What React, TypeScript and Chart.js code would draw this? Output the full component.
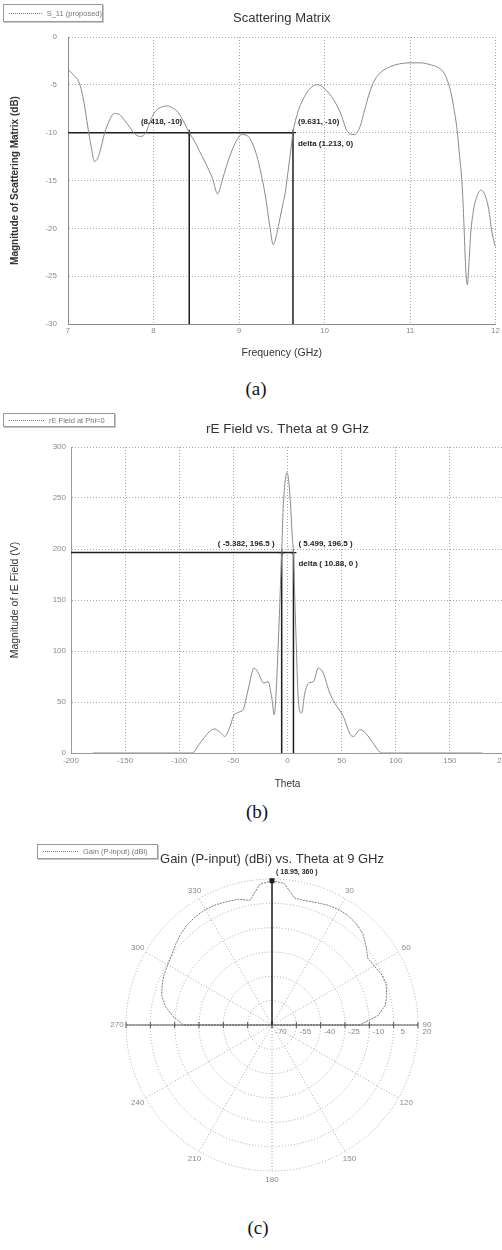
import React, { useEffect, useRef } from 'react';
import { Chart, registerables } from 'chart.js';

Chart.register(...registerables);

const SANS = '"Liberation Sans", Arial, sans-serif';
const SERIF = '"Liberation Serif", "Times New Roman", serif';
const CURVE = '#8a8a8a';
const MARK = '#1e1e1e';
const GRID = '#a8a8a8';
const TICK = '#8a8a8a';
const TEXT = '#333333';

Chart.defaults.font.family = SANS;

// ---------- (a) Scattering Matrix ----------
const freqGHz = [
  7.00, 7.07, 7.14, 7.19, 7.23, 7.27, 7.31, 7.34, 7.37, 7.43,
  7.48, 7.54, 7.60, 7.66, 7.72, 7.79, 7.85, 7.91, 7.97, 8.03,
  8.10, 8.16, 8.22, 8.29, 8.35, 8.418, 8.48, 8.53, 8.61, 8.69,
  8.75, 8.80, 8.86, 8.92, 8.98, 9.03, 9.11, 9.17, 9.22, 9.27,
  9.31, 9.36, 9.40, 9.43, 9.46, 9.50, 9.54, 9.58, 9.61, 9.631,
  9.69, 9.75, 9.81, 9.87, 9.93, 10.00, 10.08, 10.18, 10.27, 10.35,
  10.41, 10.47, 10.52, 10.58, 10.67, 10.77, 10.88, 11.00, 11.12, 11.24,
  11.33, 11.40, 11.47, 11.51, 11.55, 11.58, 11.61, 11.63, 11.65, 11.67,
  11.69, 11.71, 11.74, 11.77, 11.83, 11.88, 11.92, 11.96, 12.00,
];
const s11dB = [
  -3.4, -4.0, -5.0, -7.0, -9.3, -11.4, -13.0, -12.8, -12.1, -10.0,
  -8.8, -8.0, -8.1, -8.7, -9.4, -10.2, -10.4, -10.0, -8.6, -7.7,
  -7.3, -7.2, -7.4, -7.9, -8.8, -10.0, -10.9, -11.8, -13.2, -14.8,
  -16.4, -15.1, -13.3, -11.8, -10.7, -10.2, -10.4, -11.4, -12.8, -14.8,
  -16.7, -19.8, -21.7, -21.0, -19.8, -18.0, -16.3, -13.6, -11.5, -10.0,
  -7.8, -6.5, -5.6, -5.1, -5.0, -5.4, -6.2, -7.8, -9.9, -10.2,
  -9.5, -7.6, -6.0, -4.6, -3.6, -3.1, -2.8, -2.7, -2.7, -2.9,
  -3.2, -3.8, -5.5, -7.3, -9.7, -12.5, -15.6, -19.5, -24.0, -25.9,
  -23.5, -20.5, -18.2, -17.0, -16.0, -16.6, -18.0, -20.5, -22.0,
];
const freqTicks = [7, 8, 9, 10, 11, 12];
const s11Ticks = [0, -5, -10, -15, -20, -25, -30];
const markerFreqs = [8.418, 9.631];
const markerLevel = -10;
const markerDeltaA = '1.213';

// ---------- (b) rE Field vs Theta ----------
const thetaB = [
  -180, -88, -82, -77, -71, -67, -62, -58, -53, -50,
  -45, -41, -36, -31, -27, -22, -18, -14.5, -12.3, -10.5,
  -9, -7.5, -6.5, -5.382, -4, -2, -0.5, 1, 3, 4.5,
  5.499, 6.5, 8, 10, 13, 16, 19.5, 24, 28.5, 33,
  39, 45.5, 51.5, 58, 61, 67, 72, 79, 87, 180,
];
const eFieldV = [
  0, 0, 8, 15, 22, 23.5, 20, 16.3, 26, 36,
  40, 42.5, 63.7, 83.3, 78.4, 68.6, 70, 54, 37.6, 58.8,
  95, 135, 165, 196.5, 240, 268, 275, 268, 240, 210,
  196.5, 160, 110, 52, 39, 58.8, 68.6, 70, 83.3, 78.4,
  58.8, 45.8, 36, 18, 16.3, 22.9, 19.6, 9.8, 0, 0,
];
const thetaTicksB = [-200, -150, -100, -50, 0, 50, 100, 150, 200];
const eFieldTicks = [0, 50, 100, 150, 200, 250, 300];
const markerThetas = [-5.382, 5.499];
const markerLevelB = 196.5;
const markerDeltaB = '10.88';

// ---------- (c) Gain polar ----------
const thetaDeg = [
  0, 5, 10, 15, 20, 25, 30, 35, 40, 45, 50, 55,
  60, 65, 70, 75, 80, 85, 90, 95, 100, 105, 110, 115,
  120, 125, 130, 135, 140, 145, 150, 155, 160, 165, 170, 175,
  180, 185, 190, 195, 200, 205, 210, 215, 220, 225, 230, 235,
  240, 245, 250, 255, 260, 265, 270, 275, 280, 285, 290, 295,
  300, 305, 310, 315, 320, 325, 330, 335, 340, 345, 350, 355,
];
const gainDbi = [
  18.95, 17.5, 9.5, 9.3, 10.3, 11.5, 12.2, 12.1, 11.2, 9.3, 5.7, 2.0,
  2.8, 4.3, 4.8, 3.2, 1.0, -4.5, -16.0, -70, -70, -70, -70, -70,
  -70, -70, -70, -70, -70, -70, -70, -70, -70, -70, -70, -70,
  -70, -70, -70, -70, -70, -70, -70, -70, -70, -70, -70, -70,
  -70, -70, -70, -70, -70, -70, -15.5, -8.7, -3.2, 0.4, 2.0, 3.5,
  4.2, 5.5, 7.5, 9.5, 11.0, 11.8, 12.2, 11.8, 11.0, 10.3, 8.0, 17.0,
];
const gainTicks = [-70, -55, -40, -25, -10, 5, 20];
const peakGain = 18.95;
const peakTheta = 360;

const fixedTicks = (values: number[]) => (scale: any) => {
  scale.ticks = values.map((v) => ({ value: v }));
};

const markerText = (items: any[]) => ({
  id: 'markerText',
  afterDatasetsDraw(chart: any) {
    const { ctx } = chart;
    const x = chart.scales.x;
    const y = chart.scales.y;
    ctx.save();
    ctx.font = `bold 8px ${SANS}`;
    ctx.fillStyle = '#222';
    ctx.textBaseline = 'middle';
    items.forEach((it) => {
      ctx.textAlign = it.align;
      ctx.fillText(it.text, x.getPixelForValue(it.x) + it.dx, y.getPixelForValue(it.y) + it.dy);
    });
    ctx.restore();
  },
});

const lineDs = (pts: { x: number; y: number }[], color: string, width: number, extra: any = {}) => ({
  data: pts,
  borderColor: color,
  backgroundColor: color,
  borderWidth: width,
  pointRadius: 0,
  fill: false,
  ...extra,
});

function configA(): any {
  const [f1, f2] = markerFreqs;
  return {
    type: 'line',
    data: {
      datasets: [
        lineDs(freqGHz.map((f, i) => ({ x: f, y: s11dB[i] })), CURVE, 1, { cubicInterpolationMode: 'monotone' }),
        lineDs([{ x: 7, y: markerLevel }, { x: f2, y: markerLevel }], MARK, 1.5),
        lineDs([{ x: f1, y: markerLevel }, { x: f1, y: -30 }], MARK, 1.5),
        lineDs([{ x: f2, y: markerLevel }, { x: f2, y: -30 }], MARK, 1.5),
        lineDs([{ x: f1, y: markerLevel }, { x: f2, y: markerLevel }], MARK, 1, {
          showLine: false, pointRadius: 3, pointStyle: 'cross', pointBorderWidth: 1.2,
        }),
      ],
    },
    options: {
      responsive: false,
      animation: false,
      devicePixelRatio: 1,
      layout: { padding: { left: 0, right: 4, top: 0, bottom: 6 } },
      plugins: {
        legend: { display: false },
        tooltip: { enabled: false },
        title: {
          display: true, fullSize: false, text: 'Scattering Matrix', color: TEXT,
          font: { family: SANS, size: 13, weight: 'normal' }, padding: { top: 11, bottom: 10.4 },
        },
      },
      scales: {
        x: {
          type: 'linear', min: 7, max: 12,
          afterBuildTicks: fixedTicks(freqTicks),
          afterFit: (s: any) => { s.height = 40; },
          ticks: { font: { size: 8 }, color: TICK, padding: 2, maxRotation: 0 },
          grid: { color: GRID, drawTicks: false },
          border: { display: true, color: '#888', dash: [1, 2] },
          title: { display: true, text: 'Frequency (GHz)', color: TEXT, font: { size: 10.5 }, padding: { top: 0, bottom: 4.7 } },
        },
        y: {
          type: 'linear', min: -30, max: 0,
          afterBuildTicks: fixedTicks(s11Ticks),
          afterFit: (s: any) => { s.width = 68; },
          ticks: { font: { size: 8 }, color: TICK, padding: 11 },
          grid: { color: GRID, drawTicks: false },
          border: { display: true, color: '#888', dash: [1, 2] },
          title: { display: true, text: 'Magnitude of Scattering Matrix (dB)', color: TEXT, font: { size: 10, weight: 'bold' }, padding: { top: 9, bottom: 0 } },
        },
      },
    },
    plugins: [
      markerText([
        { text: `(${f1}, ${markerLevel})`, x: f1, y: markerLevel, dx: -7, dy: -11, align: 'right' },
        { text: `(${f2}, ${markerLevel})`, x: f2, y: markerLevel, dx: 5, dy: -11, align: 'left' },
        { text: `delta (${markerDeltaA}, 0)`, x: f2, y: markerLevel, dx: 5, dy: 11, align: 'left' },
      ]),
    ],
  };
}

function configB(): any {
  const [t1, t2] = markerThetas;
  return {
    type: 'line',
    data: {
      datasets: [
        lineDs(thetaB.map((t, i) => ({ x: t, y: eFieldV[i] })), CURVE, 1, { cubicInterpolationMode: 'monotone' }),
        lineDs([{ x: -200, y: markerLevelB }, { x: t2, y: markerLevelB }], MARK, 1.5),
        lineDs([{ x: t1, y: markerLevelB }, { x: t1, y: 0 }], MARK, 1.5),
        lineDs([{ x: t2, y: markerLevelB }, { x: t2, y: 0 }], MARK, 1.5),
        lineDs([{ x: t1, y: markerLevelB }, { x: t2, y: markerLevelB }], MARK, 1, {
          showLine: false, pointRadius: 3, pointStyle: 'cross', pointBorderWidth: 1.2,
        }),
      ],
    },
    options: {
      responsive: false,
      animation: false,
      devicePixelRatio: 1,
      layout: { padding: { left: 0, right: 16, top: 0, bottom: 7 } },
      plugins: {
        legend: { display: false },
        tooltip: { enabled: false },
        title: {
          display: true, fullSize: false, text: 'rE Field vs. Theta at 9 GHz', color: TEXT,
          font: { family: SANS, size: 13.5, weight: 'normal' }, padding: { top: 20.9, bottom: 9.9 },
        },
      },
      scales: {
        x: {
          type: 'linear', min: -200, max: 200,
          afterBuildTicks: fixedTicks(thetaTicksB),
          afterFit: (s: any) => { s.height = 40; },
          ticks: { font: { size: 8 }, color: TICK, padding: 3, maxRotation: 0 },
          grid: { color: GRID, drawTicks: false },
          border: { display: true, color: '#999', dash: [1, 2] },
          title: { display: true, text: 'Theta', color: TEXT, font: { size: 10 }, padding: { top: 0, bottom: 2.7 } },
        },
        y: {
          type: 'linear', min: 0, max: 300,
          afterBuildTicks: fixedTicks(eFieldTicks),
          afterFit: (s: any) => { s.width = 71; },
          ticks: { font: { size: 8 }, color: TICK, padding: 5 },
          grid: { color: GRID, drawTicks: false },
          border: { display: true, color: '#999', dash: [1, 2] },
          title: { display: true, text: 'Magnitude of rE Field (V)', color: TEXT, font: { size: 10.5 }, padding: { top: 8.7, bottom: 0 } },
        },
      },
    },
    plugins: [
      markerText([
        { text: `( ${t1}, ${markerLevelB} )`, x: t1, y: markerLevelB, dx: -7, dy: -9, align: 'right' },
        { text: `( ${t2}, ${markerLevelB} )`, x: t2, y: markerLevelB, dx: 5, dy: -9, align: 'left' },
        { text: `delta ( ${markerDeltaB}, 0 )`, x: t2, y: markerLevelB, dx: 5, dy: 11, align: 'left' },
      ]),
    ],
  };
}

const polarMarks = {
  id: 'polarMarks',
  afterDatasetsDraw(chart: any) {
    const r = chart.scales.r;
    const ctx = chart.ctx;
    const iRight = thetaDeg.indexOf(90);
    const iLeft = thetaDeg.indexOf(270);
    const iPeak = thetaDeg.indexOf(peakTheta % 360);
    const pr = r.getPointPositionForValue(iRight, r.max);
    const pl = r.getPointPositionForValue(iLeft, r.max);
    ctx.save();
    ctx.setLineDash([]);
    ctx.strokeStyle = '#555';
    ctx.lineWidth = 1;
    ctx.beginPath();
    ctx.moveTo(pl.x, pl.y);
    ctx.lineTo(pr.x, pr.y);
    ctx.stroke();
    gainTicks.forEach((v) => {
      [iRight, iLeft].forEach((idx) => {
        const p = r.getPointPositionForValue(idx, v);
        ctx.beginPath();
        ctx.moveTo(p.x, p.y - 3);
        ctx.lineTo(p.x, p.y + 3);
        ctx.stroke();
      });
    });
    const top = r.getPointPositionForValue(iPeak, peakGain);
    ctx.strokeStyle = MARK;
    ctx.lineWidth = 1.5;
    ctx.beginPath();
    ctx.moveTo(r.xCenter, r.yCenter);
    ctx.lineTo(top.x, top.y);
    ctx.stroke();
    ctx.fillStyle = MARK;
    ctx.fillRect(top.x - 2.5, top.y - 2.5, 5, 5);
    ctx.font = `bold 7px ${SANS}`;
    ctx.textAlign = 'left';
    ctx.textBaseline = 'middle';
    ctx.fillText(`( ${peakGain}, ${peakTheta} )`, top.x + 4, top.y - 9);
    ctx.font = `8px ${SANS}`;
    ctx.fillStyle = TICK;
    ctx.textAlign = 'center';
    thetaDeg.forEach((t, i) => {
      if (t % 30 === 0 && t !== 0) {
        const p = r.getPointPosition(i, r.drawingArea + 9);
        ctx.fillText(String(t), p.x, p.y);
      }
    });
    gainTicks.forEach((v) => {
      const p = r.getPointPositionForValue(iRight, v);
      ctx.fillText(String(v), p.x + 9, p.y + 7);
    });
    ctx.restore();
  },
};

function configC(): any {
  return {
    type: 'radar',
    data: {
      labels: thetaDeg.map(String),
      datasets: [
        {
          data: gainDbi, borderColor: '#7a7a7a', borderWidth: 1, borderDash: [2, 1],
          pointRadius: 0, fill: false, tension: 0,
        },
      ],
    },
    options: {
      responsive: false,
      animation: false,
      devicePixelRatio: 1,
      layout: { padding: { left: 126, right: 84, top: 10, bottom: 39 } },
      plugins: {
        legend: { display: false },
        tooltip: { enabled: false },
        title: {
          display: true, text: 'Gain (P-input) (dBi) vs. Theta at 9 GHz', color: TEXT,
          font: { family: SANS, size: 13, weight: 'normal' }, padding: { top: 6.2, bottom: 12.2 },
        },
      },
      scales: {
        r: {
          min: -70, max: 20,
          afterBuildTicks: fixedTicks(gainTicks),
          ticks: { display: false },
          pointLabels: { display: false },
          grid: { circular: true, color: GRID, lineWidth: 1 },
          border: { dash: [1, 2] },
          angleLines: {
            color: (ctx: any) => (thetaDeg[ctx.index] % 30 === 0 ? GRID : 'rgba(0,0,0,0)'),
            borderDash: [1, 2],
          },
        },
      },
    },
    plugins: [polarMarks],
  };
}

function ChartCanvas({ make, left, top, width, height }: any) {
  const ref = useRef<HTMLCanvasElement>(null);
  useEffect(() => {
    const chart = new Chart(ref.current as HTMLCanvasElement, make());
    return () => chart.destroy();
  }, []);
  return (
    <canvas
      ref={ref}
      width={width}
      height={height}
      style={{ position: 'absolute', left, top, width, height }}
    />
  );
}

function LegendBox({ left, top, width, height, text }: any) {
  return (
    <div
      style={{
        position: 'absolute', left, top, width, height, boxSizing: 'border-box',
        border: '1px solid #9a9a9a', boxShadow: '1px 1px 0 #c8c8c8', background: '#fff',
        display: 'flex', alignItems: 'center', fontFamily: SANS, fontSize: 7.5, color: '#777',
        whiteSpace: 'nowrap', overflow: 'hidden',
      }}
    >
      <span style={{ display: 'inline-block', width: 35, marginLeft: 5, marginRight: 5, borderTop: '1px dotted #777' }} />
      <span>{text}</span>
    </div>
  );
}

function Caption({ text, top, center }: any) {
  return (
    <div
      style={{
        position: 'absolute', left: center - 30, top, width: 60, textAlign: 'center',
        fontFamily: SERIF, fontSize: 19, lineHeight: '22px', color: '#111',
      }}
    >
      {text}
    </div>
  );
}

export default function App() {
  return (
    <div
      style={{
        position: 'absolute', left: 0, top: 0, width: 502, height: 1250,
        overflow: 'hidden', background: '#fff',
      }}
    >
      <ChartCanvas make={configA} left={0} top={0} width={502} height={370} />
      <ChartCanvas make={configB} left={0} top={400} width={520} height={400} />
      <ChartCanvas make={configC} left={0} top={835} width={502} height={375} />
      <LegendBox left={3} top={4} width={100} height={18} text="S_11 (proposed)" />
      <LegendBox left={3} top={413} width={112} height={14} text="rE Field at Phi=0" />
      <LegendBox left={37} top={844} width={121} height={15} text="Gain (P-input) (dBi)" />
      <Caption text="(a)" top={378} center={256} />
      <Caption text="(b)" top={801} center={257} />
      <Caption text="(c)" top={1217} center={258} />
    </div>
  );
}
